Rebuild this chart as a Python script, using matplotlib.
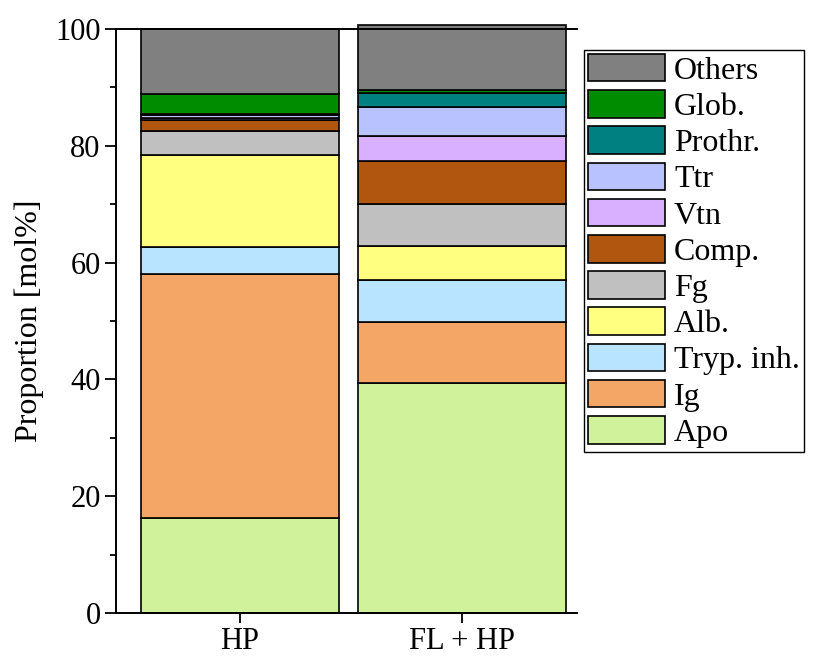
import matplotlib
matplotlib.use("Agg")
import matplotlib.pyplot as plt
import numpy as np
from matplotlib.ticker import MultipleLocator

plt.rcParams["font.family"] = ["Liberation Serif", "DejaVu Serif"]

# stacking order: bottom -> top
components = ["Apo", "Ig", "Tryp. inh.", "Alb.", "Fg", "Comp.", "Vtn", "Ttr",
              "Prothr.", "Glob.", "Others"]
groups = ["HP", "FL + HP"]
hp_values = [16.2, 41.8, 4.7, 15.8, 4.1, 1.9, 0.2, 0.5, 0.2, 3.5, 11.1]
flhp_values = [39.4, 10.5, 7.2, 5.7, 7.2, 7.4, 4.2, 5.0, 2.4, 0.6, 11.1]
colors = ["#d0f29a", "#f3a666", "#b8e4ff", "#ffff80", "#c0c0c0", "#b0560e",
          "#d8b0ff", "#b8c2ff", "#008080", "#008c00", "#808080"]

values = np.array([hp_values, flhp_values])
x = np.arange(len(groups))
widths = [0.89, 0.94]

fig = plt.figure(figsize=(8.18, 6.58), dpi=100)
ax = fig.add_axes([0.1418, 0.0684, 0.5636, 0.8875])

bottom = np.zeros(len(groups))
handles = []
for i, name in enumerate(components):
    bars = ax.bar(x, values[:, i], width=widths, bottom=bottom, color=colors[i],
                  edgecolor="black", linewidth=1.2, label=name, clip_on=False,
                  zorder=2)
    handles.append(bars)
    bottom += values[:, i]

ax.set_xlim(-0.56, 1.52)
ax.set_ylim(0, 100)
ax.set_xticks(x)
ax.set_xticklabels(groups, fontsize=22)
ax.yaxis.set_major_locator(MultipleLocator(20))
ax.yaxis.set_minor_locator(MultipleLocator(10))
ax.tick_params(axis="y", which="major", length=8, width=1.3, labelsize=22, pad=3)
ax.tick_params(axis="y", which="minor", length=4, width=1.3)
ax.tick_params(axis="x", which="major", length=7, width=1.3, pad=3)
ax.set_ylabel("Proportion [mol%]", fontsize=23, labelpad=8)

ax.spines["right"].set_visible(False)
for side in ["left", "bottom", "top"]:
    ax.spines[side].set_linewidth(1.4)

leg = fig.legend(handles[::-1], components[::-1], loc="upper left",
                 bbox_to_anchor=(584 / 818, 1 - 50 / 658), borderaxespad=0,
                 fontsize=23, handlelength=2.4, handleheight=0.95,
                 labelspacing=0.14, handletextpad=0.3, borderpad=0.12,
                 fancybox=False, framealpha=1, edgecolor="black")
leg.get_frame().set_linewidth(1.0)

fig.savefig("out.png", dpi=100)
